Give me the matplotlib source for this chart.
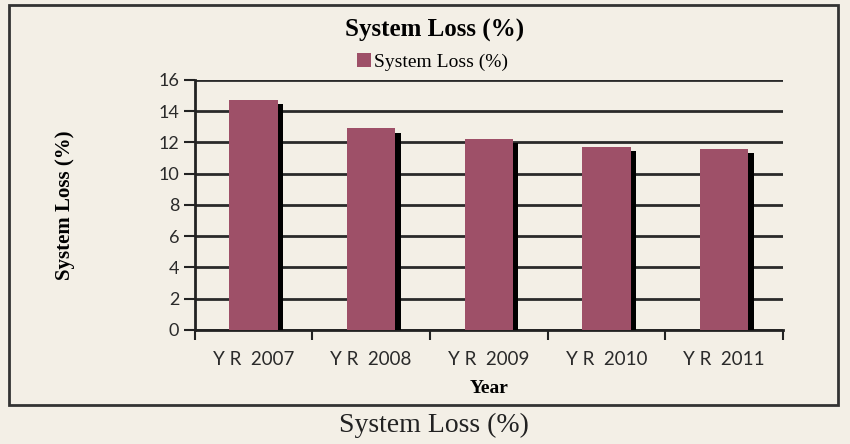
import matplotlib
matplotlib.use("Agg")
import matplotlib.pyplot as plt
import matplotlib.patheffects as pe
from matplotlib.patches import Rectangle, Patch
import numpy as np

categories = ["Y R  2007", "Y R  2008", "Y R  2009", "Y R  2010", "Y R  2011"]
values = [14.7, 12.9, 12.2, 11.7, 11.6]
series_name = "System Loss (%)"
yticks = [0, 2, 4, 6, 8, 10, 12, 14, 16]

bg = "#f3efe6"
bar_color = "#9e5068"
serif = "Liberation Serif"
sans = "Lato"

fig = plt.figure(figsize=(8.5, 4.44), dpi=100, facecolor=bg)
ax = fig.add_axes([0.229, 0.257, 0.692, 0.563], facecolor=bg)

x = np.arange(len(categories))
bars = ax.bar(x, values, width=0.41, color=bar_color, zorder=3)
for b in bars:
    b.set_path_effects([pe.SimplePatchShadow(offset=(4, -3), shadow_rgbFace="black", alpha=1.0), pe.Normal()])

ax.set_xlim(-0.5, len(categories) - 0.5)
ax.set_ylim(0, 16)
ax.set_yticks(yticks)
ax.yaxis.grid(True, color="#2a2a2a", linewidth=2, zorder=0)
ax.set_axisbelow(True)

ax.set_xticks(x)
ax.set_xticklabels(categories, fontfamily=sans, fontsize=13.5, color="#2a2a2a")
ax.set_xticks(np.arange(len(categories) + 1) - 0.5, minor=True)
ax.tick_params(axis="x", which="major", length=0, pad=15)
ax.tick_params(axis="x", which="minor", length=7, width=1.5, color="#222222", direction="out")
ax.tick_params(axis="y", length=8, width=1.5, color="#222222", direction="out", pad=3)
for lab in ax.get_yticklabels():
    lab.set_fontfamily(sans)
    lab.set_fontsize(13)
    lab.set_color("#2a2a2a")

for s in ["top", "right"]:
    ax.spines[s].set_visible(False)
ax.spines["left"].set_linewidth(2)
ax.spines["bottom"].set_linewidth(2)
ax.spines["left"].set_color("#222222")
ax.spines["bottom"].set_color("#222222")

ax.set_xlabel("Year", fontfamily=serif, fontweight="bold", fontsize=14, labelpad=9)
ax.set_ylabel(series_name, fontfamily=serif, fontweight="bold", fontsize=15, labelpad=60)

fig.text(0.511, 0.932, series_name, ha="center", va="center", fontfamily=serif,
         fontweight="bold", fontsize=18)
proxy = Patch(facecolor=bar_color, edgecolor="none")
fig.legend(handles=[proxy], labels=[series_name], loc="center", bbox_to_anchor=(0.509, 0.86),
           frameon=False, prop={"family": serif, "size": 14}, handlelength=0.7,
           handleheight=0.7, handletextpad=0.2, borderpad=0)

fig.patches.append(Rectangle((9 / 850, 1 - 405 / 444), (838 - 9) / 850, (405 - 5) / 444,
                             transform=fig.transFigure, fill=False, edgecolor="#333333",
                             linewidth=2))
fig.text(0.511, 1 - 425 / 444, series_name, ha="center", va="center", fontfamily=serif,
         fontsize=20, color="#222222")

fig.savefig("out.png", dpi=100, facecolor=bg)
